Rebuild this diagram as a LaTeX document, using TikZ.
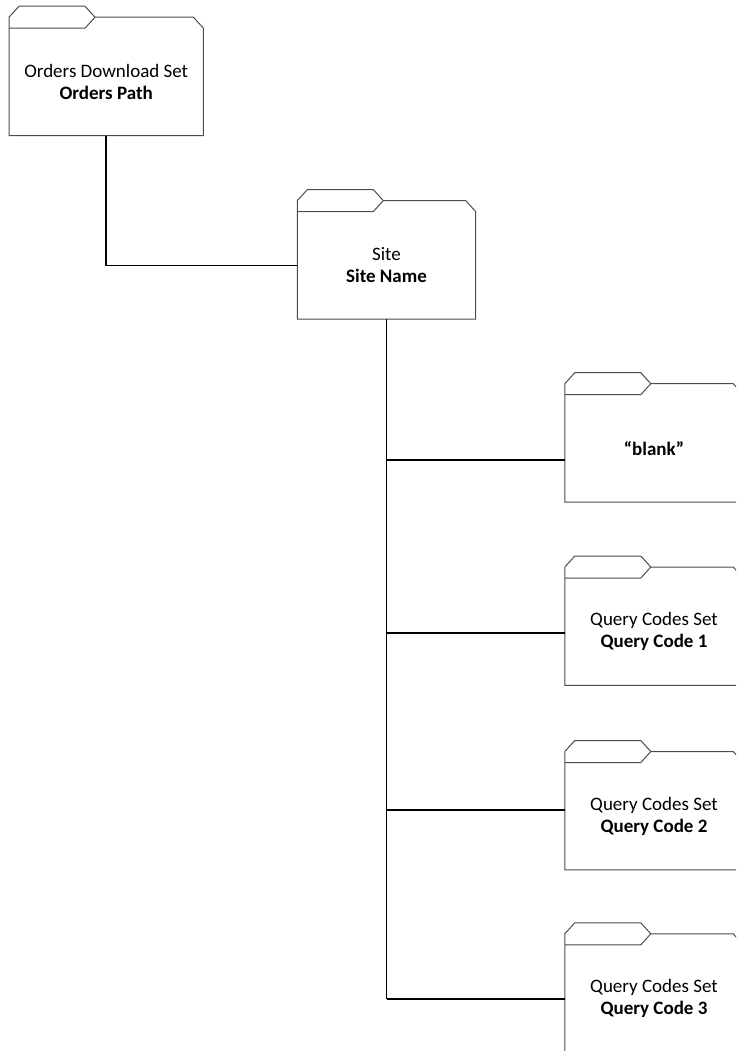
\documentclass[tikz,border=0pt]{standalone}
\usepackage{fontspec}
\setmainfont{Carlito}
\usetikzlibrary{calc}

\begin{document}
\begin{tikzpicture}[x=1pt,y=-1pt,
  folder/.style={minimum width=178pt,minimum height=107pt,inner sep=0pt,
    align=center,font=\fontsize{19}{22}\selectfont},
  folderline/.style={draw=black!70,line width=1pt},
  link/.style={draw=black,line width=1.6pt}]

      \clip (0,0) rectangle (736,1051);

      % folders
      \node[folder,minimum width=194pt] (orders) at (106.2,81.9) {Orders Download Set\\\textbf{Orders Path}};
      \node[folder] (site) at (386.5,265.3) {Site\\\textbf{Site Name}};

      \foreach \n/\y/\txt in {blank/448.4/{\textbf{“blank”}},
      	qc1/631.7/{Query Codes Set\\\textbf{Query Code 1}},
      	qc2/816.2/{Query Codes Set\\\textbf{Query Code 2}},
      	qc3/998.5/{Query Codes Set\\\textbf{Query Code 3}}}  {
      	\node[folder] (\n) at (654,\y) {\txt};
      }

      % tab and body outline
      \foreach \f in {orders,site,blank,qc1,qc2,qc3}  {
      	\draw[folderline] (\f.north west) -- ++(0,-11) -- ++(10,-11) -- ++(66,0) -- ++(10,11)
      	-- ($(\f.north east)+(-10,-11)$) -- (\f.north east) -- (\f.south east) -- (\f.south west) -- cycle;
      	\draw[folderline] (\f.north west) -- ++(76,0) -- ++(10,-11);
      }

      % connectors
      \draw[link] (orders.south) |- (site.west);

      \coordinate (j1) at (386.5,460);
      \coordinate (j2) at (386.5,633);
      \coordinate (j3) at (386.5,810);
      \coordinate (j4) at (386.5,999);
      \draw[link] (site.south) -- (j4);
      \draw[link] (j1) -- (j1 -| blank.west);
      \draw[link] (j2) -- (j2 -| qc1.west);
      \draw[link] (j3) -- (j3 -| qc2.west);
      \draw[link] (j4) -- (j4 -| qc3.west);

\end{tikzpicture}
\end{document}
